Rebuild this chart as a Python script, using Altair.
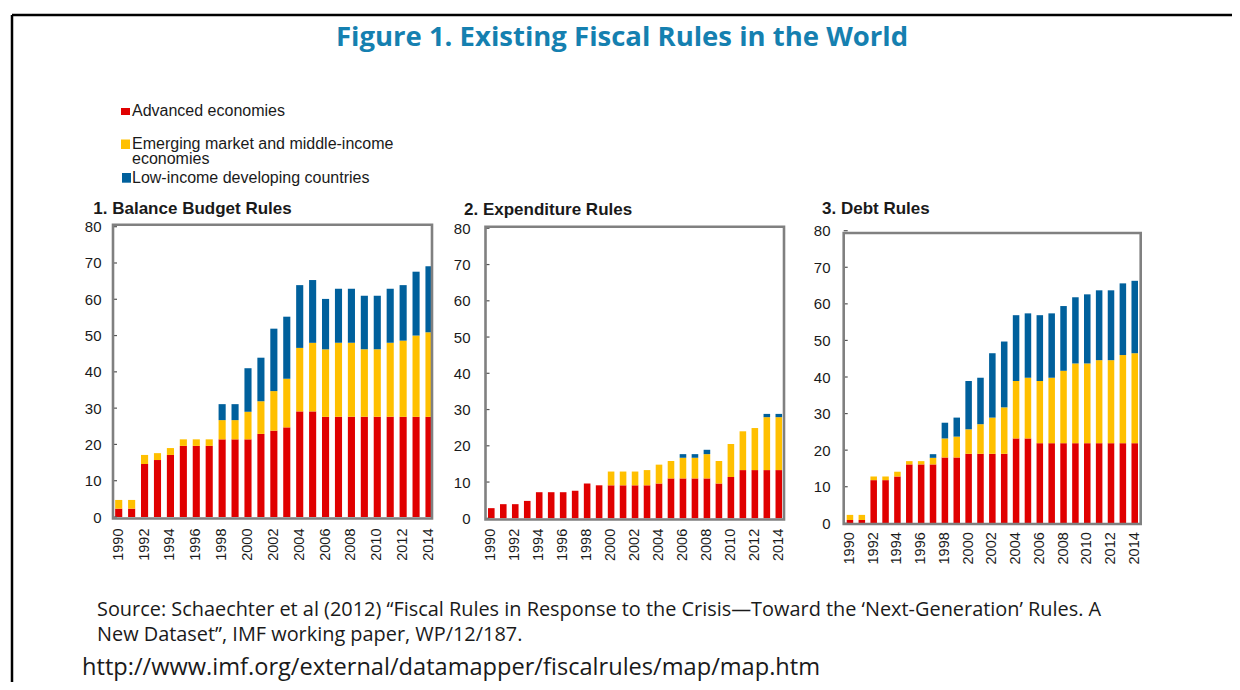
import altair as alt
import pandas as pd

# ---------------- data ----------------
years = [1990, 1991, 1992, 1993, 1994, 1995, 1996, 1997, 1998, 1999, 2000, 2001, 2002,
         2003, 2004, 2005, 2006, 2007, 2008, 2009, 2010, 2011, 2012, 2013, 2014]
even_years = [1990, 1992, 1994, 1996, 1998, 2000, 2002, 2004, 2006, 2008, 2010, 2012, 2014]
y_ticks = [0, 10, 20, 30, 40, 50, 60, 70, 80]
series = ["Advanced economies",
          "Emerging market and middle-income economies",
          "Low-income developing countries"]
colors = ["#e00000", "#ffc000", "#00609c"]

# 1. Balance budget rules (number of countries, by group)
bbr_adv = [2.3, 2.3, 14.6, 15.7, 17.1, 19.6, 19.6, 19.6, 21.4, 21.4, 21.4, 22.9, 23.8,
           24.7, 29.1, 29.1, 27.6, 27.6, 27.6, 27.6, 27.6, 27.6, 27.6, 27.6, 27.6]
bbr_em = [2.4, 2.4, 2.5, 1.9, 1.9, 1.8, 1.8, 1.8, 5.3, 5.3, 7.6, 9.0, 10.9,
          13.4, 17.5, 18.9, 18.6, 20.4, 20.4, 18.6, 18.6, 20.4, 21.0, 22.4, 23.3]
bbr_lic = [0, 0, 0, 0, 0, 0, 0, 0, 4.4, 4.4, 12.0, 12.0, 17.2,
           17.1, 17.3, 17.3, 13.9, 14.9, 14.9, 14.8, 14.8, 14.9, 15.3, 17.6, 18.2]

# 2. Expenditure rules
er_adv = [2.8, 3.9, 3.9, 4.8, 7.2, 7.2, 7.2, 7.6, 9.6, 9.1, 9.1, 9.1, 9.1,
          9.1, 9.6, 11.0, 11.0, 11.0, 11.0, 9.6, 11.4, 13.3, 13.3, 13.3, 13.3]
er_em = [0, 0, 0, 0, 0, 0, 0, 0, 0, 0, 3.8, 3.8, 3.8,
         4.2, 5.2, 4.8, 5.7, 5.7, 6.7, 6.2, 9.1, 10.7, 11.6, 14.6, 14.6]
er_lic = [0, 0, 0, 0, 0, 0, 0, 0, 0, 0, 0, 0, 0,
          0, 0, 0, 1.0, 1.0, 1.2, 0, 0, 0, 0, 0.9, 0.9]

# 3. Debt rules
dr_adv = [0.9, 0.9, 11.8, 11.8, 12.8, 16.1, 16.1, 16.1, 18.0, 18.0, 19.0, 19.0, 19.0,
          19.0, 23.2, 23.2, 21.9, 21.9, 21.9, 21.9, 21.9, 21.9, 21.9, 21.9, 21.9]
dr_em = [1.4, 1.4, 1.0, 1.0, 1.3, 0.9, 0.9, 1.8, 5.2, 5.7, 6.7, 8.1, 9.9,
         12.7, 15.7, 16.6, 17.0, 17.9, 19.8, 21.8, 21.8, 22.7, 22.7, 24.1, 24.6]
dr_lic = [0, 0, 0, 0, 0, 0, 0, 1.0, 4.3, 5.2, 13.2, 12.7, 17.6,
          18.0, 18.0, 17.6, 18.0, 17.6, 17.7, 18.1, 18.9, 19.1, 19.1, 19.6, 19.8]

panel_titles = ["1. Balance Budget Rules", "2. Expenditure Rules", "3. Debt Rules"]
fig_title = "Figure 1. Existing Fiscal Rules in the World"
source_1 = "Source: Schaechter et al (2012)  \u201cFiscal Rules in Response to the Crisis\u2014Toward the \u2018Next-Generation\u2019 Rules. A"
source_2 = "New Dataset\u201d, IMF working paper, WP/12/187."
url_text = "http://www.imf.org/external/datamapper/fiscalrules/map/map.htm"

# ---------------- layout ----------------
W, H = 1224, 674
AX_FONT = "Liberation Sans"
TXT_COLOR = "#1a1a1a"
one = pd.DataFrame({"k": [0]})


def long_df(adv, em, lic):
    rows = []
    for i, yr in enumerate(years):
        for k, vals in enumerate((adv, em, lic)):
            rows.append({"year": yr, "series": series[k], "order": k, "value": vals[i]})
    return pd.DataFrame(rows)


def panel(adv, em, lic, frame, band, yrange, ypad, xpad):
    fx0, fx1, fy0, fy1 = frame
    df = long_df(adv, em, lic)
    y_axis = alt.Axis(orient="left", offset=-fx0, values=y_ticks, ticks=False,
                      domain=False, grid=False, title=None, labelPadding=ypad,
                      labelFont=AX_FONT, labelFontSize=15, labelColor=TXT_COLOR)
    y_scale = alt.Scale(domain=[0, 80], range=yrange, nice=False)
    bars = alt.Chart(df).mark_bar().encode(
        x=alt.X("year:O",
                scale=alt.Scale(range=band, paddingInner=0.45, paddingOuter=0),
                axis=alt.Axis(orient="bottom", offset=fy1 - H, values=even_years,
                              labelAngle=270, labelPadding=xpad, ticks=False,
                              domain=False, grid=False, title=None, labelOverlap=False,
                              labelFont=AX_FONT, labelFontSize=14.5,
                              labelColor=TXT_COLOR)),
        y=alt.Y("value:Q", stack="zero", scale=y_scale, axis=y_axis),
        color=alt.Color("series:N", scale=alt.Scale(domain=series, range=colors),
                        legend=None),
        order=alt.Order("order:Q", sort="ascending"),
    )
    ticks = alt.Chart(pd.DataFrame({"value": y_ticks})).mark_rule(
        color="#555555", strokeWidth=1.2
    ).encode(
        y=alt.Y("value:Q", scale=y_scale, axis=y_axis),
        x=alt.value(fx0), x2=alt.value(fx0 + 4),
    )
    box = alt.Chart(one).mark_rect(
        fillOpacity=0, stroke="#808080", strokeWidth=2.6
    ).encode(x=alt.value(fx0), x2=alt.value(fx1), y=alt.value(fy0), y2=alt.value(fy1))
    return alt.layer(bars, ticks, box)


def text(s, x, y, size, font=AX_FONT, weight="normal", color=TXT_COLOR, align="left"):
    return alt.Chart(pd.DataFrame({"t": [s]})).mark_text(
        font=font, fontSize=size, fontWeight=weight, color=color,
        align=align, baseline="alphabetic"
    ).encode(x=alt.value(x), y=alt.value(y), text="t:N")


def swatch(color, x0, x1, y0, y1):
    return alt.Chart(one).mark_rect(color=color).encode(
        x=alt.value(x0), x2=alt.value(x1), y=alt.value(y0), y2=alt.value(y1))


p1 = panel(bbr_adv, bbr_em, bbr_lic, (105, 424, 216.7, 510.5),
           [107.15, 424.55], [509, 218.7], 12, 9.5)
p2 = panel(er_adv, er_em, er_lic, (477.5, 776, 218.7, 511.5),
           [480.0, 774.1], [510.3, 220.3], 15.5, 8.8)
p3 = panel(dr_adv, dr_em, dr_lic, (835.7, 1132.7, 225, 516),
           [838.7, 1130.0], [515.3, 222.7], 13.7, 7.7)

frame_top = alt.Chart(one).mark_rule(color="black", strokeWidth=2.5).encode(
    x=alt.value(4), x2=alt.value(W), y=alt.value(7))
frame_left = alt.Chart(one).mark_rule(color="black", strokeWidth=2.5).encode(
    x=alt.value(4), y=alt.value(7), y2=alt.value(H))

layers = [
    frame_top, frame_left,
    text(fig_title, 614, 37.7, 27.5, font="Open Sans", weight="bold",
         color="#1580b0", align="center"),
    swatch(colors[0], 113, 122, 100, 107),
    swatch(colors[1], 113, 122, 131.5, 141),
    swatch(colors[2], 114, 123, 165, 174.7),
    text(series[0], 124, 108, 16),
    text("Emerging market and middle-income", 124, 141.3, 16),
    text("economies", 124, 156, 16),
    text(series[2], 124, 174.7, 16),
    text(panel_titles[0], 85.3, 206, 17, weight="bold"),
    text(panel_titles[1], 456, 207, 17, weight="bold"),
    text(panel_titles[2], 814, 206, 17, weight="bold"),
    p1, p2, p3,
    text(source_1, 89, 607.7, 19.9, font="Open Sans"),
    text(source_2, 89, 633, 19.9, font="Open Sans"),
    text(url_text, 74, 667, 23.6, font="Open Sans"),
]

chart = alt.layer(*layers).resolve_scale(
    x="independent", y="independent"
).properties(
    width=W, height=H,
    autosize=alt.AutoSizeParams(type="none"),
    padding={"left": 0, "top": 0, "right": 0, "bottom": 0},
    background="white",
).configure_view(stroke="transparent")

chart.save("out.html", embed_options={"renderer": "svg", "actions": False})
